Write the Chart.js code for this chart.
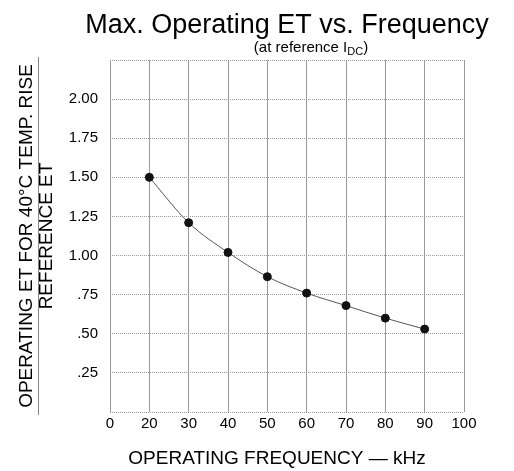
<!DOCTYPE html>
<html>
<head>
<meta charset="utf-8">
<script src="https://cdn.jsdelivr.net/npm/chart.js@4.4.0/dist/chart.umd.min.js"></script>
<style>
  html, body { margin: 0; padding: 0; background: #fff; }
  #wrap { width: 514px; height: 471px; }
</style>
</head>
<body>
<div id="wrap"><canvas id="myChart" width="514" height="471"></canvas></div>
<script>
// categories on the x axis (the first slot is labelled 0)
const xLabels = ['0', '20', '30', '40', '50', '60', '70', '80', '90', '100'];
// measured points
const freqs = ['20', '30', '40', '50', '60', '70', '80', '90'];
const etRatio = [1.50, 1.21, 1.02, 0.865, 0.76, 0.68, 0.60, 0.53];
// y tick labels, bottom to top (0 .. 2.25 step .25)
const yTickLabels = ['', '.25', '.50', '.75', '1.00', '1.25', '1.50', '1.75', '2.00', ''];

const FONT = '"Liberation Sans", Arial, Helvetica, sans-serif';

// titles, y title as a fraction, x title
const textPlugin = {
  id: 'texts',
  afterDraw(chart) {
    const ctx = chart.ctx;
    const area = chart.chartArea;
    const cx = (area.left + area.right) / 2;
    ctx.save();
    ctx.fillStyle = '#000';
    ctx.textBaseline = 'alphabetic';

    // main title
    ctx.font = '27px ' + FONT;
    ctx.textAlign = 'center';
    ctx.fillText('Max. Operating ET vs. Frequency', cx, 33);

    // subtitle with subscript
    const s1 = '(at reference I', s2 = 'DC', s3 = ')';
    ctx.font = '15px ' + FONT;
    const w1 = ctx.measureText(s1).width, w3 = ctx.measureText(s3).width;
    ctx.font = '11px ' + FONT;
    const w2 = ctx.measureText(s2).width;
    let x = 311 - (w1 + w2 + w3) / 2;
    ctx.textAlign = 'left';
    ctx.font = '15px ' + FONT;
    ctx.fillText(s1, x, 52);
    x += w1;
    ctx.font = '11px ' + FONT;
    ctx.fillText(s2, x, 55);
    x += w2;
    ctx.font = '15px ' + FONT;
    ctx.fillText(s3, x, 52);

    // y title (fraction)
    const cy = (area.top + area.bottom) / 2;
    ctx.translate(0, cy);
    ctx.rotate(-Math.PI / 2);
    ctx.textAlign = 'center';
    ctx.textBaseline = 'middle';
    ctx.font = '19px ' + FONT;
    ctx.fillText('OPERATING ET FOR 40°C TEMP. RISE', 0, 27);
    ctx.fillText('REFERENCE ET', 0, 47);
    ctx.strokeStyle = '#888';
    ctx.lineWidth = 1;
    ctx.beginPath();
    ctx.moveTo(-179, 38.5);
    ctx.lineTo(179, 38.5);
    ctx.stroke();
    ctx.setTransform(1, 0, 0, 1, 0, 0);

    // x title
    ctx.textAlign = 'center';
    ctx.textBaseline = 'middle';
    ctx.font = '19px ' + FONT;
    ctx.fillText('OPERATING FREQUENCY \u2014 kHz', 277, 459);
    ctx.restore();
  }
};

const ctx = document.getElementById('myChart').getContext('2d');
new Chart(ctx, {
  type: 'line',
  data: {
    labels: xLabels,
    datasets: [{
      data: freqs.map((f, i) => ({ x: f, y: etRatio[i] })),
      borderColor: '#555',
      borderWidth: 1,
      cubicInterpolationMode: 'monotone',
      pointRadius: 4,
      pointHoverRadius: 4,
      pointBackgroundColor: '#111',
      pointBorderColor: '#111',
      fill: false
    }]
  },
  options: {
    responsive: false,
    animation: false,
    devicePixelRatio: 1,
    layout: { padding: { top: 60, right: 50, bottom: 0, left: 0 } },
    plugins: { legend: { display: false }, tooltip: { enabled: false }, title: { display: false } },
    scales: {
      x: {
        type: 'category',
        offset: false,
        grid: { color: '#999', lineWidth: 1, drawTicks: false },
        border: { display: false },
        ticks: { color: '#000', font: { family: FONT, size: 15 }, padding: 3, maxRotation: 0, autoSkip: false },
        afterFit(scale) { scale.height = 59; }
      },
      y: {
        min: 0,
        max: 2.25,
        grid: { color: '#999', lineWidth: 1, drawTicks: false, tickBorderDash: [1, 1] },
        border: { display: false, dash: [1, 1] },
        ticks: {
          stepSize: 0.25,
          color: '#000',
          padding: 12,
          font: { family: FONT, size: 15 },
          callback: (v, i) => yTickLabels[i]
        },
        afterFit(scale) { scale.width = 110; }
      }
    }
  },
  plugins: [textPlugin]
});
</script>
</body>
</html>
